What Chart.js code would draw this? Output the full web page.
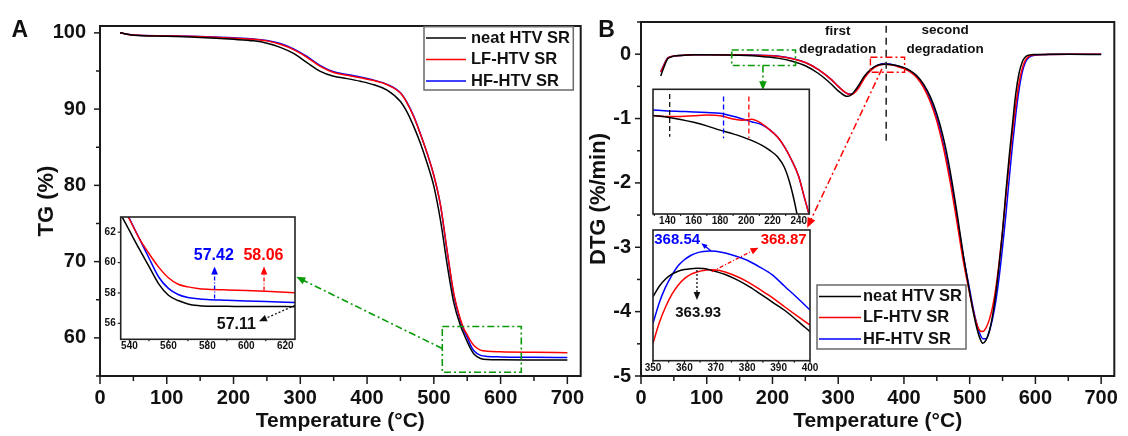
<!DOCTYPE html>
<html><head><meta charset="utf-8">
<script src="https://cdn.jsdelivr.net/npm/chart.js@4.4.0/dist/chart.umd.min.js"></script>
<style>
html,body{margin:0;padding:0;background:#fff;}
#wrap{position:relative;width:1128px;height:436px;overflow:hidden;background:#fff;}
canvas{position:absolute;display:block;}
</style></head><body>
<div id="wrap">
<canvas id="cA" width="600" height="436" style="left:0;top:0;width:600px;height:436px"></canvas>
<canvas id="cB" width="568" height="436" style="left:560px;top:0;width:568px;height:436px"></canvas>
<canvas id="cA1" width="210" height="152" style="left:96px;top:206px;width:210px;height:152px"></canvas>
<canvas id="cB1" width="180" height="150" style="left:640px;top:80px;width:180px;height:150px"></canvas>
<canvas id="cB2" width="182" height="156" style="left:640px;top:222px;width:182px;height:156px"></canvas>
</div>
<script>
// ---------------- DATA ----------------
const seriesLabels = ['neat HTV SR', 'LF-HTV SR', 'HF-HTV SR'];

// Panel A: TG (%) vs temperature
const tgTemp = [30,50,100,150,200,230,250,270,290,310,330,350,370,390,410,430,450,460,470,480,490,500,510,520,530,540,545,550,555,560,570,580,600,650,700];
const tgNeat = [100.0,99.7,99.55,99.4,99.15,98.95,98.65,98.1,97.3,96.1,94.95,94.3,94.0,93.65,93.2,92.5,91.0,89.6,87.7,85.5,82.9,79.9,75.4,69.6,64.6,61.6,60.5,59.5,58.6,57.9,57.3,57.15,57.12,57.11,57.11];
const tgLF   = [100.0,99.72,99.6,99.5,99.3,99.15,98.95,98.5,97.8,96.8,95.6,94.8,94.45,94.1,93.75,93.2,92.1,90.8,89.0,86.7,84.2,81.3,77.4,71.4,65.8,62.4,61.2,60.4,59.6,59.0,58.4,58.25,58.17,58.1,58.06];
const tgHF   = [100.0,99.73,99.62,99.52,99.35,99.2,99.0,98.6,97.9,96.9,95.7,94.9,94.55,94.2,93.8,93.25,92.15,90.85,89.05,86.75,84.2,81.3,77.4,71.3,65.6,62.2,61.0,60.1,59.05,58.3,57.7,57.57,57.5,57.45,57.42];

// Panel A inset (zoom of residue)
const insATemp = [535,540,545,550,555,560,565,570,575,580,590,600,610,625];
const insANeat = [63.3,62.1,60.9,59.75,58.6,57.85,57.5,57.28,57.17,57.13,57.12,57.11,57.11,57.1];
const insALF   = [64.1,62.85,61.6,60.6,59.7,59.0,58.57,58.4,58.3,58.25,58.2,58.17,58.12,58.02];
const insAHF   = [64.3,62.9,61.6,60.3,59.05,58.3,57.9,57.7,57.62,57.57,57.52,57.47,57.43,57.38];

// Panel B: DTG (%/min) vs temperature
const dtgTemp = [30,35,40,45,50,60,80,100,130,150,170,190,210,230,250,270,290,300,310,315,320,330,340,350,360,370,380,390,400,410,420,430,440,450,460,470,480,490,500,505,510,515,520,525,530,535,540,545,550,555,560,565,570,575,580,585,590,600,620,650,700];
const dtgNeat = [-0.34,-0.2,-0.08,-0.045,-0.03,-0.02,-0.01,-0.01,-0.012,-0.016,-0.026,-0.042,-0.065,-0.11,-0.18,-0.3,-0.47,-0.57,-0.645,-0.655,-0.63,-0.5,-0.34,-0.23,-0.17,-0.155,-0.16,-0.18,-0.21,-0.26,-0.34,-0.47,-0.66,-0.93,-1.3,-1.8,-2.42,-3.1,-3.7,-3.98,-4.22,-4.4,-4.49,-4.44,-4.3,-4.05,-3.7,-3.25,-2.75,-2.15,-1.6,-1.1,-0.62,-0.3,-0.12,-0.04,-0.015,-0.005,-0.003,-0.002,-0.005];
const dtgLF   = [-0.28,-0.17,-0.07,-0.04,-0.03,-0.02,-0.01,-0.01,-0.01,-0.012,-0.015,-0.022,-0.035,-0.07,-0.13,-0.24,-0.4,-0.5,-0.59,-0.62,-0.625,-0.54,-0.37,-0.25,-0.18,-0.155,-0.165,-0.19,-0.225,-0.28,-0.37,-0.52,-0.74,-1.04,-1.45,-1.97,-2.57,-3.2,-3.72,-3.97,-4.17,-4.29,-4.31,-4.25,-4.12,-3.92,-3.62,-3.22,-2.75,-2.22,-1.7,-1.22,-0.8,-0.45,-0.22,-0.09,-0.035,-0.01,-0.005,-0.003,-0.003];
const dtgHF   = [-0.27,-0.16,-0.065,-0.04,-0.03,-0.02,-0.01,-0.01,-0.008,-0.01,-0.013,-0.02,-0.033,-0.068,-0.13,-0.24,-0.4,-0.5,-0.59,-0.615,-0.62,-0.53,-0.36,-0.24,-0.17,-0.145,-0.155,-0.18,-0.215,-0.27,-0.36,-0.5,-0.71,-1.0,-1.4,-1.9,-2.5,-3.12,-3.66,-3.93,-4.16,-4.33,-4.42,-4.42,-4.3,-4.1,-3.82,-3.45,-3.0,-2.5,-1.95,-1.42,-0.95,-0.56,-0.28,-0.12,-0.05,-0.015,-0.005,-0.003,-0.003];

// Panel B inset 1 (onset region, 130-250 C)
const insB1Temp = [129,140,150,160,170,180,190,197,204,212,218,224,229,234,240,244,248];
const insB1Neat = [-0.0353,-0.0368,-0.039,-0.0418,-0.0452,-0.0493,-0.0529,-0.0558,-0.0592,-0.064,-0.0688,-0.0752,-0.085,-0.104,-0.139,-0.17,-0.2];
const insB1LF   = [-0.0353,-0.0362,-0.0361,-0.0354,-0.0347,-0.0354,-0.0385,-0.0398,-0.0389,-0.0432,-0.0491,-0.0562,-0.0652,-0.0768,-0.0941,-0.113,-0.131];
const insB1HF   = [-0.030,-0.0308,-0.0313,-0.0318,-0.0324,-0.033,-0.036,-0.0385,-0.0412,-0.0441,-0.0491,-0.0562,-0.0652,-0.0768,-0.0941,-0.113,-0.131];

// Panel B inset 2 (first peak region, 350-400 C)
const insB2Temp = [350,352,354,356,358,360,362,364,366,368,370,373,376,380,384,388,392,396,400];
const insB2Neat = [-0.202,-0.186,-0.175,-0.1675,-0.163,-0.1605,-0.1592,-0.1586,-0.159,-0.161,-0.1635,-0.168,-0.1745,-0.1848,-0.1972,-0.2102,-0.2232,-0.239,-0.2556];
const insB2LF   = [-0.2734,-0.2418,-0.2178,-0.1985,-0.1845,-0.1745,-0.168,-0.1642,-0.1618,-0.161,-0.1612,-0.1643,-0.1697,-0.1789,-0.191,-0.2035,-0.2178,-0.2318,-0.2454];
const insB2HF   = [-0.2428,-0.2112,-0.1875,-0.1695,-0.1548,-0.1455,-0.139,-0.135,-0.133,-0.1321,-0.1325,-0.1352,-0.1393,-0.1463,-0.1567,-0.1688,-0.1865,-0.204,-0.2224];

// ---------------- HELPERS ----------------
const FONT = "'Liberation Sans', Arial, Helvetica, sans-serif";
Chart.defaults.font.family = FONT;
Chart.defaults.color = '#111';
const COL = ['#000000', '#ff0000', '#0000ff'];
const GREEN = '#0a9a0a';
const DASHDOT = [7,3,2,3];

function pts(xs, ys) { return xs.map((x, i) => ({x: x, y: ys[i]})); }
function dsets(xs, arrs, lw) {
  return arrs.map((ys, i) => ({
    label: seriesLabels[i], data: pts(xs, ys), borderColor: COL[i], backgroundColor: COL[i],
    borderWidth: lw || 1.5, pointRadius: 0, fill: false, cubicInterpolationMode: 'monotone'
  }));
}
function isMult(v, s) { return Math.abs(v / s - Math.round(v / s)) < 1e-6; }
function fmt(v) { const r = Math.round(v); return String(r === 0 ? 0 : r); }

function arrowHead(ctx, x1, y1, x2, y2, size, color) {
  const a = Math.atan2(y2 - y1, x2 - x1), w = size * 0.42;
  const bx = x2 - size * Math.cos(a), by = y2 - size * Math.sin(a);
  ctx.save(); ctx.setLineDash([]); ctx.fillStyle = color;
  ctx.beginPath(); ctx.moveTo(x2, y2);
  ctx.lineTo(bx + w * Math.sin(a), by - w * Math.cos(a));
  ctx.lineTo(bx - w * Math.sin(a), by + w * Math.cos(a));
  ctx.closePath(); ctx.fill(); ctx.restore();
}
function axisTicks(ctx, scale, cfg, horizontal, edge) {
  const kmin = Math.ceil(scale.min / cfg.minor - 1e-9), kmax = Math.floor(scale.max / cfg.minor + 1e-9);
  for (let k = kmin; k <= kmax; k++) {
    const v = k * cfg.minor;
    const major = isMult(v, cfg.major);
    const len = major ? cfg.majLen : cfg.minLen;
    if (!len) continue;
    const p = scale.getPixelForValue(v);
    ctx.beginPath();
    if (horizontal) { ctx.moveTo(p, edge); ctx.lineTo(p, edge + len); }
    else { ctx.moveTo(edge, p); ctx.lineTo(edge - len, p); }
    ctx.stroke();
  }
}

const deco = {
  id: 'deco',
  beforeDraw(chart, args, o) {
    if (!o.bg) return;
    const {ctx, chartArea: a} = chart;
    ctx.save(); ctx.fillStyle = '#fff';
    ctx.fillRect(a.left, a.top, a.right - a.left, a.bottom - a.top); ctx.restore();
  },
  afterDraw(chart, args, o) {
    const {ctx, chartArea: a, scales} = chart;
    const X = v => scales.x.getPixelForValue(v), Y = v => scales.y.getPixelForValue(v);
    ctx.save();
    for (const it of (o.items || [])) {
      ctx.strokeStyle = it.color; ctx.fillStyle = it.color; ctx.lineWidth = it.lw || 1.5;
      ctx.setLineDash(it.dash || []);
      if (it.t === 'rect') {
        ctx.strokeRect(X(it.x0), Y(it.y0), X(it.x1) - X(it.x0), Y(it.y1) - Y(it.y0));
      } else if (it.t === 'line') {
        const x1 = X(it.x0), y1 = Y(it.y0), x2 = X(it.x1), y2 = Y(it.y1);
        const ang = Math.atan2(y2 - y1, x2 - x1);
        const cut = it.head ? it.head * 0.8 : 0;
        ctx.beginPath(); ctx.moveTo(x1, y1);
        ctx.lineTo(x2 - cut * Math.cos(ang), y2 - cut * Math.sin(ang)); ctx.stroke();
        if (it.head) arrowHead(ctx, x1, y1, x2, y2, it.head, it.color);
      } else if (it.t === 'text') {
        ctx.setLineDash([]);
        ctx.font = (it.w || 'bold') + ' ' + it.size + 'px ' + FONT;
        ctx.textAlign = it.align || 'center'; ctx.textBaseline = 'middle';
        ctx.fillText(it.text, X(it.x), Y(it.y));
      }
    }
    ctx.setLineDash([]);
    ctx.strokeStyle = o.frameColor || '#1a1a1a'; ctx.lineWidth = o.frameW || 2;
    ctx.strokeRect(a.left, a.top, a.right - a.left, a.bottom - a.top);
    if (o.ticks) {
      ctx.lineWidth = o.ticks.w || 1.5;
      if (o.ticks.x) axisTicks(ctx, scales.x, o.ticks.x, true, a.bottom);
      if (o.ticks.y) axisTicks(ctx, scales.y, o.ticks.y, false, a.left);
    }
    if (o.legend) {
      const L = o.legend;
      ctx.fillStyle = '#fff'; ctx.fillRect(L.x, L.y, L.w, L.h);
      ctx.strokeStyle = '#6a6a6a'; ctx.lineWidth = 1.5; ctx.strokeRect(L.x, L.y, L.w, L.h);
      chart.data.datasets.forEach((d, i) => {
        const ry = L.rows[i];
        ctx.strokeStyle = d.borderColor; ctx.lineWidth = 1.5;
        ctx.beginPath(); ctx.moveTo(L.lx0, ry); ctx.lineTo(L.lx1, ry); ctx.stroke();
        ctx.fillStyle = '#111'; ctx.font = 'bold ' + L.fs + 'px ' + FONT;
        ctx.textAlign = 'left'; ctx.textBaseline = 'middle';
        ctx.fillText(d.label, L.tx, ry);
      });
    }
    if (o.letter) {
      ctx.fillStyle = '#111'; ctx.font = 'bold ' + o.letter.size + 'px ' + FONT;
      ctx.textAlign = 'left'; ctx.textBaseline = 'alphabetic';
      ctx.fillText(o.letter.text, o.letter.x, o.letter.y);
    }
    ctx.restore();
  }
};

function axis(min, max, step, o) {
  const ax = {
    type: 'linear', min: min, max: max, display: o.display !== false,
    grid: {display: false, drawTicks: false}, border: {display: false},
    ticks: {stepSize: step, includeBounds: false, autoSkip: false, maxRotation: 0, minRotation: 0, padding: o.pad,
      color: '#111', font: {size: o.fs, weight: 'bold'},
      callback: v => isMult(v, step) ? fmt(v) : ''},
    title: o.title ? {display: true, text: o.title, color: '#111', font: {size: o.tfs, weight: 'bold'},
      padding: o.tpad} : {display: false}
  };
  if (o.h !== undefined) ax.afterFit = s => { s.height = o.h; };
  if (o.w !== undefined) ax.afterFit = s => { s.width = o.w; };
  return ax;
}

function make(id, datasets, x, y, pad, decoOpts) {
  return new Chart(document.getElementById(id), {
    type: 'line',
    data: {datasets: datasets},
    options: {
      responsive: false, animation: false, devicePixelRatio: 1,
      parsing: true, normalized: true,
      layout: {padding: pad},
      scales: {x: x, y: y},
      plugins: {legend: {display: false}, tooltip: {enabled: false}, deco: decoOpts}
    },
    plugins: [deco]
  });
}

// ---------------- PANEL A ----------------
make('cA', dsets(tgTemp, [tgNeat, tgLF, tgHF]),
  axis(0, 720, 100, {fs: 20, pad: 10, h: 60, title: 'Temperature (°C)', tfs: 21, tpad: {top: 0, bottom: 2}}),
  axis(55, 100.9, 10, {fs: 20, pad: 14, w: 100, title: 'TG (%)', tfs: 22, tpad: {top: 34, bottom: 0}}),
  {left: 0, top: 19.5, right: 19.3, bottom: 0},
  {
    ticks: {x: {major: 100, minor: 50, majLen: 8, minLen: 5}, y: {major: 10, minor: 5, majLen: 6, minLen: 4}},
    items: [
      {t: 'rect', x0: 512.7, x1: 631, y0: 61.5, y1: 55.5, color: GREEN, dash: DASHDOT, lw: 1.6},
      {t: 'line', x0: 512.7, y0: 58.6, x1: 294, y1: 68.0, color: GREEN, dash: DASHDOT, lw: 1.6, head: 9}
    ],
    legend: {x: 424, y: 26.7, w: 149.3, h: 63.3, rows: [38, 59.5, 81], lx0: 426, lx1: 466, tx: 471, fs: 16.5},
    letter: {text: 'A', x: 11.5, y: 36.7, size: 23}
  });

make('cA1', dsets(insATemp, [insANeat, insALF, insAHF]),
  axis(535.5, 625, 20, {fs: 10, pad: 1.4, h: 18.7}),
  axis(54.95, 63, 2, {fs: 10, pad: 5, w: 24.7}),
  {left: 0, top: 8.3, right: 11, bottom: 0},
  {
    bg: true, frameW: 1.6, frameColor: '#222',
    ticks: {w: 1.2, x: {major: 20, minor: 10, majLen: 3, minLen: 2}, y: {major: 2, minor: 2, majLen: 3, minLen: 0}},
    items: [
      {t: 'line', x0: 583.7, y0: 57.64, x1: 583.7, y1: 59.75, color: '#0000ff', dash: [4,2,1,2], lw: 1.3, head: 8},
      {t: 'line', x0: 609.1, y0: 58.16, x1: 609.1, y1: 59.75, color: '#ff0000', dash: [4,2,1,2], lw: 1.3, head: 8},
      {t: 'line', x0: 625, y0: 57.19, x1: 606.5, y1: 56.13, color: '#111', dash: [2,2], lw: 1.3, head: 8},
      {t: 'text', x: 583.3, y: 60.46, text: '57.42', color: '#0000ff', size: 16},
      {t: 'text', x: 608.8, y: 60.46, text: '58.06', color: '#ff0000', size: 16},
      {t: 'text', x: 594.9, y: 55.92, text: '57.11', color: '#111', size: 16}
    ]
  });

// ---------------- PANEL B ----------------
make('cB', dsets(dtgTemp, [dtgNeat, dtgLF, dtgHF]),
  axis(0, 720, 100, {fs: 20, pad: 10, h: 60, title: 'Temperature (°C)', tfs: 21, tpad: {top: 0, bottom: 2}}),
  axis(-5, 0.5, 1, {fs: 20, pad: 10, w: 81, title: 'DTG (%/min)', tfs: 22, tpad: {top: 26, bottom: 0}}),
  {left: 0, top: 19.5, right: 5.7, bottom: 0},
  {
    ticks: {x: {major: 100, minor: 50, majLen: 8, minLen: 5}, y: {major: 1, minor: 0.5, majLen: 6, minLen: 4}},
    items: [
      {t: 'rect', x0: 138, x1: 235, y0: 0.065, y1: -0.176, color: GREEN, dash: DASHDOT, lw: 1.6},
      {t: 'line', x0: 185.5, y0: -0.176, x1: 185.5, y1: -0.56, color: GREEN, dash: DASHDOT, lw: 1.6, head: 9},
      {t: 'rect', x0: 349, x1: 401, y0: -0.048, y1: -0.28, color: '#ff0000', dash: DASHDOT, lw: 1.4},
      {t: 'line', x0: 366.5, y0: -0.228, x1: 252.8, y1: -2.697, color: '#ff0000', dash: DASHDOT, lw: 1.5, head: 10},
      {t: 'line', x0: 373, y0: 0.44, x1: 373, y1: -1.41, color: '#222', dash: [7,5], lw: 1.5},
      {t: 'text', x: 299.2, y: 0.353, text: 'first', color: '#111', size: 13.5},
      {t: 'text', x: 299.2, y: 0.08, text: 'degradation', color: '#111', size: 13.5},
      {t: 'text', x: 462.5, y: 0.369, text: 'second', color: '#111', size: 13.5},
      {t: 'text', x: 462.5, y: 0.076, text: 'degradation', color: '#111', size: 13.5}
    ],
    legend: {x: 257, y: 285, w: 149, h: 64, rows: [296.5, 317.5, 339], lx0: 259, lx1: 301, tx: 303, fs: 16.5},
    letter: {text: 'B', x: 38.3, y: 36.7, size: 23}
  });

make('cB1', dsets(insB1Temp, [insB1Neat, insB1LF, insB1HF]),
  axis(129, 248, 20, {fs: 10, pad: 1.7, h: 16}),
  axis(-0.13, -0.01, 0.02, {display: false, fs: 10, pad: 0}),
  {left: 13, top: 9.3, right: 10.7, bottom: 0},
  {
    bg: true, frameW: 1.6, frameColor: '#222',
    ticks: {w: 1.2, x: {major: 20, minor: 10, majLen: 3, minLen: 2}},
    items: [
      {t: 'line', x0: 141.7, y0: -0.0145, x1: 141.7, y1: -0.0556, color: '#111', dash: [5,3], lw: 1.3},
      {t: 'line', x0: 182.7, y0: -0.017, x1: 182.7, y1: -0.0572, color: '#0000ff', dash: [5,3], lw: 1.3},
      {t: 'line', x0: 202, y0: -0.017, x1: 202, y1: -0.0572, color: '#ff0000', dash: [5,3], lw: 1.3}
    ]
  });

make('cB2', dsets(insB2Temp, [insB2Neat, insB2LF, insB2HF]),
  axis(350, 400, 10, {fs: 10, pad: 1.6, h: 17.3}),
  axis(-0.30, -0.10, 0.05, {display: false, fs: 10, pad: 0}),
  {left: 13, top: 8, right: 12, bottom: 0},
  {
    bg: true, frameW: 1.6, frameColor: '#222',
    ticks: {w: 1.2, x: {major: 10, minor: 5, majLen: 3, minLen: 2}},
    items: [
      {t: 'line', x0: 368.5, y0: -0.132, x1: 365.4, y1: -0.1204, color: '#0000ff', lw: 1.3, head: 6},
      {t: 'line', x0: 368.7, y0: -0.1638, x1: 383.6, y1: -0.127, color: '#ff0000', dash: [4,2,1,2], lw: 1.3, head: 8},
      {t: 'line', x0: 364, y0: -0.1612, x1: 364, y1: -0.2071, color: '#111', dash: [2,2], lw: 1.3, head: 8},
      {t: 'text', x: 357.7, y: -0.1153, text: '368.54', color: '#0000ff', size: 15},
      {t: 'text', x: 391.6, y: -0.1153, text: '368.87', color: '#ff0000', size: 15},
      {t: 'text', x: 364.4, y: -0.2275, text: '363.93', color: '#111', size: 15}
    ]
  });
</script>
</body></html>
